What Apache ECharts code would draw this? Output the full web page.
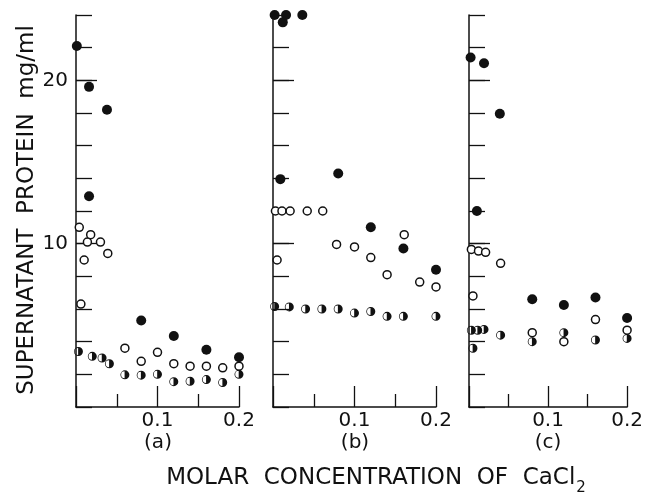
<!DOCTYPE html>
<html>
<head>
<meta charset="utf-8">
<script src="https://cdn.jsdelivr.net/npm/echarts@6/dist/echarts.min.js"></script>
<style>
  html, body { margin: 0; padding: 0; background: #fff; }
  #main { width: 646px; height: 499px; }
</style>
</head>
<body>
<div id="main"></div>
<script>
var panelNames = ['(a)', '(b)', '(c)'];
var xLabelValues = [0.1, 0.2];
var yLabelValues = [10, 20];
var yLongTicks = [10, 20];

// panel (a)
var aFilled = [[0.001, 22.1], [0.016, 19.6], [0.038, 18.2], [0.016, 12.9], [0.08, 5.3], [0.12, 4.35], [0.16, 3.5], [0.2, 3.05]];
var aOpen = [[0.004, 11.0], [0.014, 10.1], [0.018, 10.55], [0.01, 9.0], [0.03, 10.1], [0.039, 9.4], [0.006, 6.3],
  [0.06, 3.6], [0.08, 2.8], [0.1, 3.35], [0.12, 2.65], [0.14, 2.5], [0.16, 2.5], [0.18, 2.4], [0.2, 2.5]];
var aHalf = [[0.003, 3.4], [0.02, 3.1], [0.032, 3.0], [0.041, 2.65], [0.06, 1.97], [0.08, 1.95], [0.1, 2.0],
  [0.12, 1.55], [0.14, 1.58], [0.16, 1.68], [0.18, 1.5], [0.2, 2.0]];

// panel (b)
var bFilled = [[0.002, 24.0], [0.012, 23.55], [0.016, 24.0], [0.036, 24.0], [0.009, 13.95], [0.08, 14.3], [0.12, 11.0], [0.16, 9.7], [0.2, 8.4]];
var bOpen = [[0.003, 12.0], [0.011, 12.0], [0.021, 12.0], [0.042, 12.0], [0.061, 12.0], [0.005, 9.0], [0.078, 9.95],
  [0.1, 9.8], [0.12, 9.15], [0.14, 8.1], [0.161, 10.55], [0.18, 7.65], [0.2, 7.35]];
var bHalf = [[0.002, 6.15], [0.02, 6.13], [0.04, 6.0], [0.06, 6.0], [0.08, 6.0], [0.1, 5.75], [0.12, 5.85], [0.14, 5.55], [0.16, 5.55], [0.2, 5.55]];

// panel (c)
var cFilled = [[0.002, 21.4], [0.019, 21.05], [0.039, 17.95], [0.01, 12.0], [0.08, 6.6], [0.12, 6.25], [0.16, 6.7], [0.2, 5.45]];
var cOpen = [[0.003, 9.65], [0.012, 9.55], [0.021, 9.47], [0.04, 8.8], [0.005, 6.8], [0.08, 4.55], [0.12, 4.0], [0.16, 5.35], [0.2, 4.7]];
var cHalf = [[0.003, 4.7], [0.011, 4.7], [0.019, 4.75], [0.04, 4.4], [0.005, 3.6], [0.08, 4.0], [0.12, 4.55], [0.16, 4.1], [0.2, 4.2]];

var panels = [
  { filled: aFilled, open: aOpen, half: aHalf },
  { filled: bFilled, open: bOpen, half: bHalf },
  { filled: cFilled, open: cOpen, half: cHalf }
];

var ink = '#111';
var font = 'DejaVu Sans';
var halfSymbol = 'path://M10 0A10 10 0 1 1 10 20A10 10 0 1 1 10 0ZM9.3 2.3A7.7 7.7 0 0 0 9.3 17.7Z';

var grids = [
  { left: 76, top: 15, width: 163, height: 392 },
  { left: 273, top: 15, width: 163, height: 392 },
  { left: 469, top: 15, width: 164, height: 392 }
];

var xAxes = [], yAxes = [], series = [];
panels.forEach(function (p, i) {
  xAxes.push({
    type: 'value', gridIndex: i, min: 0, max: 0.2, interval: 0.1,
    axisLine: { show: true, lineStyle: { color: ink, width: 1.5 } },
    axisTick: { show: true, inside: true, length: 21, lineStyle: { color: ink, width: 1.3 } },
    minorTick: { show: true, splitNumber: 2, length: 13, lineStyle: { color: ink, width: 1.3 } },
    axisLabel: {
      customValues: xLabelValues, color: ink, fontFamily: font, fontSize: 20, margin: 4,
      formatter: function (v) { return v.toFixed(1); }
    },
    splitLine: { show: false }
  });
  yAxes.push({
    type: 'value', gridIndex: i, position: 'left', min: 0, max: 24, interval: 2,
    axisLine: { show: true, lineStyle: { color: ink, width: 1.5 } },
    axisTick: { show: true, inside: true, length: 16, lineStyle: { color: ink, width: 1.3 } },
    axisLabel: i === 0 ? {
      customValues: yLabelValues, color: ink, fontFamily: font, fontSize: 20, margin: 8
    } : { show: false },
    splitLine: { show: false }
  });
  yAxes.push({
    type: 'value', gridIndex: i, position: 'left', offset: 0, min: 0, max: 24,
    axisLine: { show: false },
    axisTick: { show: true, inside: true, length: 21, customValues: yLongTicks, lineStyle: { color: ink, width: 1.3 } },
    axisLabel: { show: false },
    splitLine: { show: false }
  });
  series.push({
    type: 'scatter', xAxisIndex: i, yAxisIndex: i * 2, clip: false,
    symbol: 'circle', symbolSize: 8,
    itemStyle: { color: '#fff', borderColor: ink, borderWidth: 1.5, opacity: 1 },
    data: p.open
  });
  series.push({
    type: 'scatter', xAxisIndex: i, yAxisIndex: i * 2, clip: false,
    symbol: halfSymbol, symbolSize: 9,
    itemStyle: { color: ink, opacity: 1 },
    data: p.half
  });
  series.push({
    type: 'scatter', xAxisIndex: i, yAxisIndex: i * 2, clip: false,
    symbol: 'circle', symbolSize: 10,
    itemStyle: { color: ink, opacity: 1 },
    data: p.filled
  });
});

var panelCenters = [158, 355, 548];
var graphics = panelNames.map(function (name, i) {
  return {
    type: 'text', x: panelCenters[i], y: 443,
    style: { text: name, fill: ink, font: '20px "DejaVu Sans"', align: 'center', verticalAlign: 'middle' }
  };
});
graphics.push({
  type: 'text', x: 27, y: 210, rotation: Math.PI / 2,
  style: {
    text: 'SUPERNATANT  PROTEIN  mg/ml', fill: ink, font: '23px "DejaVu Sans"',
    align: 'center', verticalAlign: 'middle'
  }
});
graphics.push({
  type: 'text', x: 376, y: 476,
  style: {
    text: '{t|MOLAR  CONCENTRATION  OF  CaCl}{s|2}',
    align: 'center', verticalAlign: 'middle',
    rich: {
      t: { fill: ink, fontFamily: font, fontSize: 23, lineHeight: 28, verticalAlign: 'bottom' },
      s: { fill: ink, fontFamily: font, fontSize: 15, lineHeight: 28, verticalAlign: 'bottom', padding: [0, 0, -6, 1] }
    }
  }
});

var myChart = echarts.init(document.getElementById('main'));
myChart.setOption({
  backgroundColor: '#fff',
  animation: false,
  grid: grids,
  xAxis: xAxes,
  yAxis: yAxes,
  series: series,
  graphic: graphics
});
</script>
</body>
</html>
